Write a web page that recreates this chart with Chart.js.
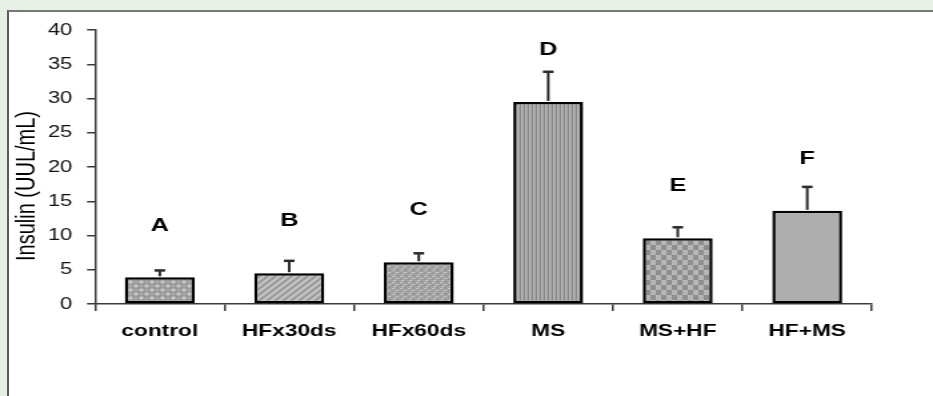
<!DOCTYPE html>
<html>
<head>
<meta charset="utf-8">
<script src="https://cdn.jsdelivr.net/npm/chart.js@4.4.1/dist/chart.umd.min.js"></script>
<style>
  html, body { margin: 0; padding: 0; background: #e7f0e5; overflow: hidden; }
  #frame { position: absolute; left: 7px; top: 10px; width: 940px; height: 400px; background: #fff;
           border-left: 2px solid #5a5a5a; border-top: 2px solid #787878; }
  #chart { position: absolute; left: 0; top: 0; }
</style>
</head>
<body>
<div id="frame"></div>
<canvas id="chart" width="700" height="396" style="width:933px;height:396px"></canvas>
<script>
// Insulin levels per group (mean, upward SD) with significance letters
const groups = ['control', 'HFx30ds', 'HFx60ds', 'MS', 'MS+HF', 'HF+MS'];
const insulin = [3.9, 4.5, 6.1, 29.5, 9.6, 13.6];
const insulinSD = [1.0, 1.8, 1.3, 4.4, 1.6, 3.5];
const groupLetters = ['A', 'B', 'C', 'D', 'E', 'F'];
const yTicks = [0, 5, 10, 15, 20, 25, 30, 35, 40];
const yTitle = 'Insulin (UUL/mL)';

const FONT = '"Liberation Sans", Arial, sans-serif';

// small tile builders for the grey fill patterns
function tile(w, h, paint) {
  const c = document.createElement('canvas');
  c.width = w; c.height = h;
  const g = c.getContext('2d');
  paint(g, w, h);
  return document.getElementById('chart').getContext('2d').createPattern(c, 'repeat');
}
const fills = [
  // circles on a checker
  tile(8, 8, (g) => {
    g.fillStyle = '#969696'; g.fillRect(0, 0, 8, 8);
    g.fillStyle = '#c9c9c9';
    g.beginPath(); g.arc(2, 2, 1.7, 0, Math.PI * 2); g.fill();
    g.beginPath(); g.arc(6, 6, 1.7, 0, Math.PI * 2); g.fill();
    g.fillStyle = '#afafaf'; g.fillRect(5, 1, 2, 2); g.fillRect(1, 5, 2, 2);
  }),
  // diagonal stripes
  tile(6, 6, (g) => {
    g.fillStyle = '#9c9c9c'; g.fillRect(0, 0, 6, 6);
    g.strokeStyle = '#cacaca'; g.lineWidth = 1.8;
    g.beginPath();
    g.moveTo(-1, 7); g.lineTo(7, -1);
    g.moveTo(-4, 4); g.lineTo(4, -4);
    g.moveTo(2, 10); g.lineTo(10, 2);
    g.stroke();
  }),
  // stippled bricks
  tile(6, 6, (g) => {
    g.fillStyle = '#a2a2a2'; g.fillRect(0, 0, 6, 6);
    g.fillStyle = '#c8c8c8';
    g.fillRect(0, 0, 2, 1); g.fillRect(3, 2, 2, 1); g.fillRect(1, 4, 2, 1);
    g.fillStyle = '#8c8c8c';
    g.fillRect(4, 0, 1, 1); g.fillRect(0, 3, 1, 1); g.fillRect(4, 5, 1, 1);
  }),
  // vertical stripes
  tile(3, 2, (g) => {
    g.fillStyle = '#878787'; g.fillRect(0, 0, 1, 2);
    g.fillStyle = '#bababa'; g.fillRect(1, 0, 1, 2);
    g.fillStyle = '#a3a3a3'; g.fillRect(2, 0, 1, 2);
  }),
  // checkerboard
  tile(8, 10, (g) => {
    g.fillStyle = '#b6b6b6'; g.fillRect(0, 0, 8, 10);
    g.fillStyle = '#8e8e8e'; g.fillRect(4, 0, 4, 5); g.fillRect(0, 5, 4, 5);
  }),
  // fine dots
  tile(2, 2, (g) => {
    g.fillStyle = '#a0a0a0'; g.fillRect(0, 0, 2, 2);
    g.fillStyle = '#bcbcbc'; g.fillRect(0, 0, 1, 1); g.fillRect(1, 1, 1, 1);
  })
];

// upward error bars, group letters and the rotated axis title
const annotate = {
  id: 'annotate',
  afterDatasetsDraw(chart) {
    const ctx = chart.ctx;
    const meta = chart.getDatasetMeta(0);
    const y = chart.scales.y;
    ctx.save();
    meta.data.forEach((bar, i) => {
      const top = y.getPixelForValue(insulin[i]);
      const hi = y.getPixelForValue(insulin[i] + insulinSD[i]);
      ctx.strokeStyle = '#2b2b2b';
      ctx.lineWidth = 2;
      ctx.beginPath();
      ctx.moveTo(bar.x, top - 1); ctx.lineTo(bar.x, hi);
      ctx.stroke();
      ctx.lineWidth = 2.5;
      ctx.beginPath();
      ctx.moveTo(bar.x - 4, hi); ctx.lineTo(bar.x + 4, hi);
      ctx.stroke();
      ctx.fillStyle = '#000';
      ctx.font = 'bold 19px ' + FONT;
      ctx.textAlign = 'center';
      ctx.textBaseline = 'middle';
      ctx.fillText(groupLetters[i], bar.x, top - 52);
    });
    ctx.translate(20.5, 186);
    ctx.rotate(-Math.PI / 2);
    ctx.fillStyle = '#000';
    ctx.font = '20px ' + FONT;
    ctx.textAlign = 'center';
    ctx.textBaseline = 'middle';
    ctx.fillText(yTitle, 0, 0);
    ctx.restore();
  }
};

new Chart(document.getElementById('chart'), {
  type: 'bar',
  data: {
    labels: groups,
    datasets: [{
      data: insulin,
      backgroundColor: fills,
      borderColor: '#000',
      borderWidth: 2.5,
      borderSkipped: false,
      categoryPercentage: 1,
      barPercentage: 0.54
    }]
  },
  options: {
    responsive: false,
    animation: false,
    layout: { padding: { top: 30, right: 45.8, bottom: 0, left: 0 } },
    plugins: { legend: { display: false }, tooltip: { enabled: false } },
    scales: {
      x: {
        offset: true,
        border: { display: true, color: '#3a3a3a', width: 1.5 },
        grid: { offset: true, drawOnChartArea: false, tickLength: 7, color: '#3a3a3a', lineWidth: 1.5 },
        ticks: {
          color: '#000', padding: 10, maxRotation: 0,
          font: { family: FONT, size: 17, weight: 'bold' }
        },
        afterFit(s) { s.height = 92; }
      },
      y: {
        min: 0, max: 40,
        afterBuildTicks(s) { s.ticks = yTicks.map(v => ({ value: v })); },
        border: { display: true, color: '#3a3a3a', width: 1.5 },
        grid: { drawOnChartArea: false, tickLength: 6, color: '#3a3a3a', lineWidth: 1.5 },
        ticks: {
          color: '#111', padding: 11,
          font: { family: FONT, size: 16.5 }
        },
        afterFit(s) { s.width = 71.3; }
      }
    }
  },
  plugins: [annotate]
});
</script>
</body>
</html>
